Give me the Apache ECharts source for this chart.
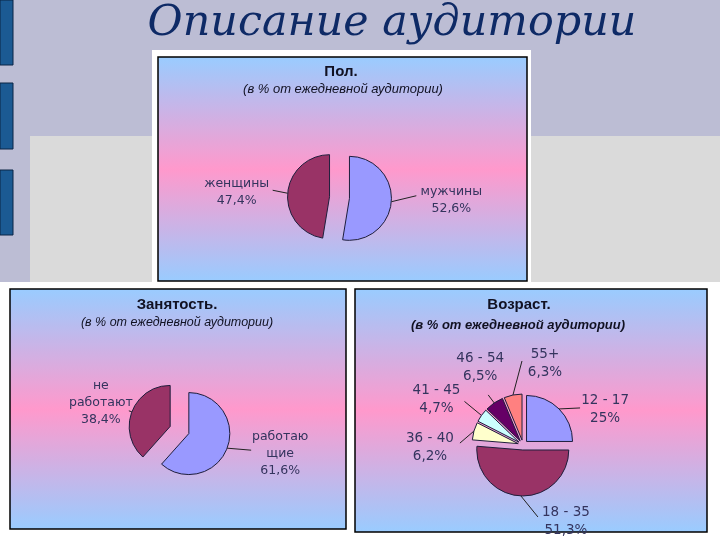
<!DOCTYPE html>
<html><head><meta charset="utf-8">
<script src="https://cdn.jsdelivr.net/npm/echarts@6/dist/echarts.min.js"></script>
<style>html,body{margin:0;padding:0;background:#BCBDD4}#c{width:720px;height:540px}</style>
</head><body><div id="c"></div>
<script>
// ---- data ----
const slideTitle = 'Описание аудитории';
const subTitle = '(в % от ежедневной аудитории)';
const genderTitle = 'Пол.';
const genderCats = ['мужчины', 'женщины'];
const genderVals = [52.6, 47.4];
const employTitle = 'Занятость.';
const employCats = ['работаю\nщие', 'не\nработают'];
const employVals = [61.6, 38.4];
const ageTitle = 'Возраст.';
const ageCats = ['12 - 17', '18 - 35', '36 - 40', '41 - 45', '46 - 54', '55+'];
const ageVals = [25, 51.3, 6.2, 4.7, 6.5, 6.3];

// ---- styles ----
const genderColors = ['#9999FF', '#993366'];
const employColors = ['#9999FF', '#993366'];
const ageColors = ['#9999FF', '#993366', '#FFFFCC', '#CCFFFF', '#660066', '#FF8080'];
const labelColor = '#34345E';
// label placement relative to the slice's outer anchor: [labelDx, labelDy, lineDx, lineDy]
const genderLabelOffsets = [[60, -1, 25, -6], [-51, -1, -15, -3]];
const employLabelOffsets = [[53, 6, 24, 2], [-31, -9, -3, -1]];
const ageLabelOffsets = [[46, 1, 21, -1], [45, 26, 17, 21], [-44, 16, -14, 12], [-45, -16, -17, -14], [-14, -35, -6, -8], [32, -31, 9, -34]];

function fmt(v) { return String(v).replace('.', ','); }

function panelGradient() {
  return new echarts.graphic.LinearGradient(0, 0, 0, 1, [
    {offset: 0, color: '#99CCFF'},
    {offset: 0.5, color: '#FF99CC'},
    {offset: 1, color: '#99CCFF'}
  ]);
}

function pieSeries(cats, vals, colors, center, radius, offset, offs, fontSize, lineH) {
  return {
    type: 'pie',
    center: center,
    radius: radius,
    startAngle: 90,
    clockwise: true,
    selectedMode: 'multiple',
    selectedOffset: offset,
    avoidLabelOverlap: false,
    animation: false,
    emphasis: {disabled: true},
    itemStyle: {borderColor: '#1E1E3C', borderWidth: 1},
    select: {itemStyle: {borderColor: '#1E1E3C', borderWidth: 1}},
    label: {
      show: true,
      position: 'outside',
      distanceToLabelLine: 5,
      formatter: function (p) { return p.name.split('\n').map(function(s){return '{a|' + s + '}';}).join('\n') + '\n{a|' + fmt(p.value) + '%}'; },
      rich: {a: {align: 'center', fontSize: fontSize, lineHeight: lineH, color: labelColor, fontFamily: 'DejaVu Sans'}}
    },
    labelLine: {show: true, length: 5, length2: 5, lineStyle: {color: '#222', width: 1}},
    labelLayout: function (p) {
      const pts = p.labelLinePoints;
      if (!pts) return {hideOverlap: false};
      const a = pts[0];
      const sgn = pts[2][0] >= pts[1][0] ? 1 : -1;
      const defX = pts[2][0] + sgn * 5, defY = pts[2][1];
      const o = offs[p.dataIndex];
      const e = [a[0] + o[2], a[1] + o[3]];
      return {
        dx: a[0] + o[0] - defX, dy: a[1] + o[1] - defY,
        align: 'center', verticalAlign: 'middle',
        hideOverlap: false,
        labelLinePoints: [a, e, e]
      };
    },
    data: cats.map(function (n, i) {
      return {name: n, value: vals[i], selected: true, itemStyle: {color: colors[i]}};
    })
  };
}

function txt(x, y, text, font, color, extra) {
  const o = {type: 'text', x: x, y: y, z: 10,
    style: {text: text, font: font, fill: color, align: 'center', verticalAlign: 'middle'}};
  if (extra) Object.assign(o, extra);
  return o;
}

const chart = echarts.init(document.getElementById('c'), null, {renderer: 'canvas'});
chart.setOption({
  animation: false,
  graphic: {elements: [
    {type: 'rect', z: -10, shape: {x: 0, y: 0, width: 720, height: 540}, style: {fill: '#BCBDD4'}},
    {type: 'rect', z: -9, shape: {x: 0, y: 0, width: 13, height: 65}, style: {fill: '#1B5A93', stroke: '#0B2545', lineWidth: 1}},
    {type: 'rect', z: -9, shape: {x: 0, y: 83, width: 13, height: 66}, style: {fill: '#1B5A93', stroke: '#0B2545', lineWidth: 1}},
    {type: 'rect', z: -9, shape: {x: 0, y: 170, width: 13, height: 65}, style: {fill: '#1B5A93', stroke: '#0B2545', lineWidth: 1}},
    {type: 'rect', z: -9, shape: {x: 30, y: 136, width: 690, height: 146}, style: {fill: '#DADADA'}},
    {type: 'rect', z: -9, shape: {x: 0, y: 282, width: 720, height: 258}, style: {fill: '#FFFFFF'}},
    {type: 'rect', z: -8, shape: {x: 152, y: 50, width: 379, height: 233}, style: {fill: '#FFFFFF'}},
    {type: 'rect', z: -7, shape: {x: 158, y: 57, width: 369, height: 224}, style: {fill: panelGradient(), stroke: '#000', lineWidth: 1.5}},
    {type: 'rect', z: -7, shape: {x: 10, y: 289, width: 336, height: 240}, style: {fill: panelGradient(), stroke: '#000', lineWidth: 1.5}},
    {type: 'rect', z: -7, shape: {x: 355, y: 289, width: 352, height: 243}, style: {fill: panelGradient(), stroke: '#000', lineWidth: 1.5}},
    txt(392, 24, slideTitle, 'italic 42px "DejaVu Serif"', '#0E2A66', {scaleX: 1.02}),
    txt(341, 72, genderTitle, 'bold 15px "Liberation Sans"', '#111122'),
    txt(343, 89, subTitle, 'italic 13px "Liberation Sans"', '#111122'),
    txt(177, 305, employTitle, 'bold 15px "Liberation Sans"', '#111122'),
    txt(177, 323, subTitle, 'italic 12.5px "Liberation Sans"', '#111122'),
    txt(519, 305, ageTitle, 'bold 15px "Liberation Sans"', '#111122'),
    txt(518, 325, subTitle, 'italic bold 13px "Liberation Sans"', '#111122')
  ]},
  series: [
    pieSeries(genderCats, genderVals, genderColors, [339.5, 197.5], 42, 10, genderLabelOffsets, 12.5, 17),
    pieSeries(employCats, employVals, employColors, [179.5, 430], 41, 10, employLabelOffsets, 12.5, 17),
    pieSeries(ageCats, ageVals, ageColors, [523, 445], 46, 5, ageLabelOffsets, 13.5, 18)
  ]
});
</script></body></html>
